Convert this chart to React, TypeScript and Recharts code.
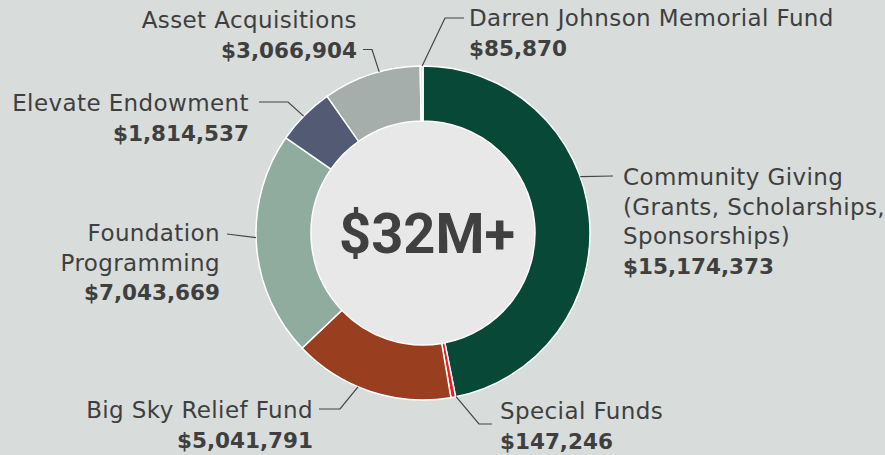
import React from "react";
import { PieChart, Pie, Cell } from "recharts";

const categories = [
  "Community Giving",
  "Special Funds",
  "Big Sky Relief Fund",
  "Foundation Programming",
  "Elevate Endowment",
  "Asset Acquisitions",
  "Darren Johnson Memorial Fund",
];
const amounts = [15174373, 147246, 5041791, 7043669, 1814537, 3066904, 85870];
const labelLines: string[][] = [
  ["Community Giving", "(Grants, Scholarships,", "Sponsorships)"],
  ["Special Funds"],
  ["Big Sky Relief Fund"],
  ["Foundation", "Programming"],
  ["Elevate Endowment"],
  ["Asset Acquisitions"],
  ["Darren Johnson Memorial Fund"],
];
const colors = ["#074836", "#ec1c24", "#993f1f", "#8fac9f", "#525a74", "#a5aeaa", "#e4e4e4"];
const centerText = "$32M+";

// label layout: ring anchor angle (deg), leader path points as offsets from center, text position offsets
const layout = [
  { angle: 19.7, pts: [[190, -57]], tx: 200, ty: -48, anchor: "start" },
  { angle: -78.6, pts: [[56, 191], [69, 191]], tx: 77, ty: 186, anchor: "start" },
  { angle: -112.9, pts: [[-83, 176], [-104, 176]], tx: -110, ty: 185, anchor: "end" },
  { angle: -178.4, pts: [[-196, 1]], tx: -203, ty: 8, anchor: "end" },
  { angle: 135.6, pts: [[-135, -131], [-164, -131]], tx: -174, ty: -122, anchor: "end" },
  { angle: 105.2, pts: [[-51, -183.5], [-60, -183.5]], tx: -66, ty: -205, anchor: "end" },
  { angle: 90.3, pts: [[22, -215], [41, -215]], tx: 46, ty: -207, anchor: "start" },
];

const data = categories.map((name, i) => ({ name, value: amounts[i] }));
const fmt = (v: number) => "$" + v.toLocaleString("en-US");
const FONT = "'DejaVu Sans', sans-serif";
const TXT = "#3f3f3f";
const LH = 29.5;

const renderLabel = (props: any) => {
  const { cx, cy, outerRadius, index } = props;
  const L = layout[index];
  const rad = (L.angle * Math.PI) / 180;
  const sx = cx + outerRadius * Math.cos(rad);
  const sy = cy - outerRadius * Math.sin(rad);
  const pts = [[sx, sy], ...L.pts.map(([dx, dy]) => [cx + dx, cy + dy])];
  const lines = labelLines[index];
  const tx = cx + L.tx;
  const ty = cy + L.ty;
  return (
    <g key={`lbl-${index}`}>
      <polyline
        points={pts.map((p) => p.join(",")).join(" ")}
        fill="none"
        stroke="#444"
        strokeWidth={1.2}
      />
      {lines.map((t, k) => (
        <text
          key={k}
          x={tx}
          y={ty + k * LH}
          textAnchor={L.anchor}
          fontFamily={FONT}
          fontSize={23}
          letterSpacing={0.4}
          fill={TXT}
        >
          {t}
        </text>
      ))}
      <text
        x={tx}
        y={ty + lines.length * LH}
        textAnchor={L.anchor}
        fontFamily={FONT}
        fontSize={21.5}
        fontWeight={700}
        fill={TXT}
      >
        {fmt(amounts[index])}
      </text>
    </g>
  );
};

const renderCenter = (p: any) => (
  <text
    key="center-text"
    x={p.cx + 4}
    y={p.cy + 20}
    textAnchor="middle"
    fontFamily="Roboto, sans-serif"
    fontSize={56}
    fontWeight={700}
    fill="#404040"
  >
    {centerText}
  </text>
);

export default function App() {
  return (
    <div style={{ position: "fixed", left: 0, top: 0, width: 885, height: 455, background: "#d8dcdb" }}>
      <PieChart width={885} height={455} margin={{ top: 0, right: 0, bottom: 0, left: 0 }}>
        <Pie
          data={[{ name: "center", value: 1 }]}
          dataKey="value"
          cx={423}
          cy={233}
          innerRadius={0}
          outerRadius={111.5}
          fill="#e8e8e8"
          stroke="none"
          label={renderCenter}
          labelLine={false}
          isAnimationActive={false}
        />
        <Pie
          data={data}
          dataKey="value"
          cx={423}
          cy={233}
          innerRadius={112}
          outerRadius={167}
          startAngle={90}
          endAngle={-270}
          stroke="#ffffff"
          strokeWidth={1.5}
          label={renderLabel}
          labelLine={false}
          isAnimationActive={false}
        >
          {data.map((d, i) => (
            <Cell key={d.name} fill={colors[i]} />
          ))}
        </Pie>
      </PieChart>
    </div>
  );
}
